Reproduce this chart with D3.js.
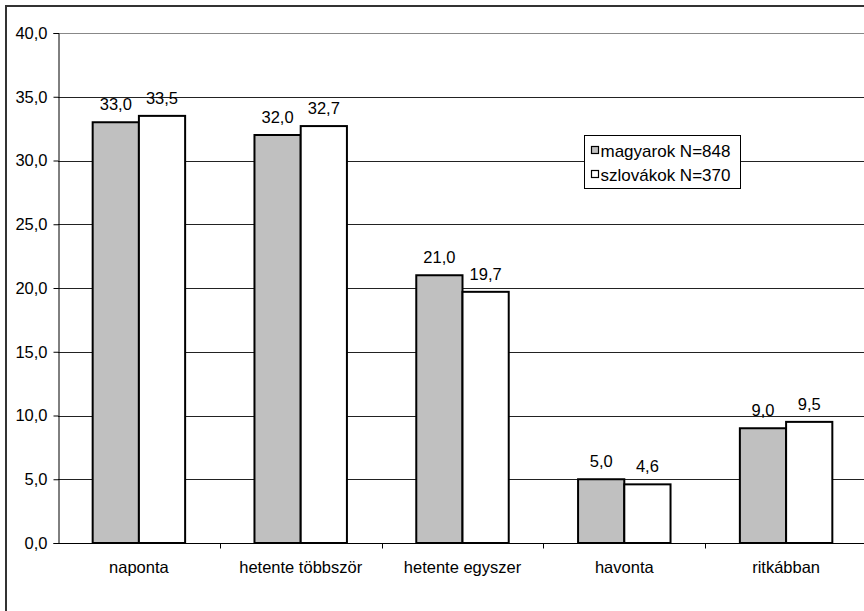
<!DOCTYPE html>
<html>
<head>
<meta charset="utf-8">
<script src="https://cdn.jsdelivr.net/npm/d3@7"></script>
<style>
  html, body { margin: 0; padding: 0; background: #fff; }
  svg { display: block; }
  text { font-family: "Liberation Sans", Arial, sans-serif; fill: #000; }
</style>
</head>
<body>
<svg id="chart" width="864" height="611"></svg>
<script>
// chart data
const categories = ["naponta", "hetente többször", "hetente egyszer", "havonta", "ritkábban"];
const seriesNames = ["magyarok N=848", "szlovákok N=370"];
const magyarok = [33.0, 32.0, 21.0, 5.0, 9.0];
const szlovakok = [33.5, 32.7, 19.7, 4.6, 9.5];
const yTicks = [0, 5, 10, 15, 20, 25, 30, 35, 40];
const seriesColors = ["#c0c0c0", "#ffffff"];

const svg = d3.select("#chart");
const plot = { left: 58, right: 867, top: 33, bottom: 543 };
const fontSize = "16.5px";
const fmt = (v) => d3.format(".1f")(v).replace(".", ",");

// outer frame (right and bottom edges fall outside the picture)
svg.append("rect")
  .attr("x", 6).attr("y", 6)
  .attr("width", 940).attr("height", 700)
  .attr("fill", "none")
  .attr("stroke", "#333")
  .attr("stroke-width", 2);

const x = d3.scaleBand().domain(categories).range([plot.left, plot.right]).padding(0);
const xInner = d3.scaleBand()
  .domain(seriesNames)
  .range([0, x.bandwidth()])
  .paddingInner(0)
  .paddingOuter(0.75);
const y = d3.scaleLinear().domain([0, 40]).range([plot.bottom, plot.top]);

// gridlines
svg.append("g")
  .selectAll("line")
  .data(yTicks.filter((t) => t > 0))
  .join("line")
  .attr("x1", plot.left).attr("x2", 864)
  .attr("y1", (d) => Math.round(y(d)) + 0.5)
  .attr("y2", (d) => Math.round(y(d)) + 0.5)
  .attr("stroke", (d) => (d === 40 ? "#888" : "#222"))
  .attr("stroke-width", 1);

// y axis
const yAxis = svg.append("g")
  .attr("transform", `translate(${plot.left + 0.5},0)`)
  .call(d3.axisLeft(y).tickValues(yTicks).tickFormat(fmt).tickSize(5).tickPadding(6));
yAxis.select(".domain").attr("stroke", "#000");
yAxis.selectAll(".tick line").attr("stroke", "#000");
yAxis.selectAll("text")
  .style("font-size", fontSize)
  .attr("fill", "#000");

// bars
const rows = categories.map((c, i) => ({ cat: c, values: [magyarok[i], szlovakok[i]] }));
const groups = svg.append("g")
  .selectAll("g")
  .data(rows)
  .join("g")
  .attr("transform", (d) => `translate(${x(d.cat)},0)`);

groups.selectAll("rect")
  .data((d) => d.values.map((v, j) => ({ name: seriesNames[j], v, j })))
  .join("rect")
  .attr("x", (d) => xInner(d.name))
  .attr("y", (d) => y(d.v))
  .attr("width", xInner.bandwidth())
  .attr("height", (d) => y(0) - y(d.v))
  .attr("fill", (d) => seriesColors[d.j])
  .attr("stroke", "#000")
  .attr("stroke-width", 2);

groups.selectAll("text")
  .data((d) => d.values.map((v, j) => ({ name: seriesNames[j], v })))
  .join("text")
  .attr("x", (d) => xInner(d.name) + xInner.bandwidth() / 2)
  .attr("y", (d) => y(d.v) - 12)
  .attr("text-anchor", "middle")
  .style("font-size", fontSize)
  .text((d) => fmt(d.v));

// x axis
const xAxisY = Math.round(y(0)) + 0.5;
const xAxis = svg.append("g").attr("transform", `translate(0,${xAxisY})`);
xAxis.append("line")
  .attr("x1", plot.left).attr("x2", 864)
  .attr("stroke", "#000");
xAxis.selectAll(".cat-tick")
  .data(categories.slice(1))
  .join("line")
  .attr("class", "cat-tick")
  .attr("x1", (d) => Math.round(x(d)) + 0.5)
  .attr("x2", (d) => Math.round(x(d)) + 0.5)
  .attr("y1", 0).attr("y2", 5)
  .attr("stroke", "#000");
xAxis.selectAll("text")
  .data(categories)
  .join("text")
  .attr("x", (d) => x(d) + x.bandwidth() / 2)
  .attr("y", 29)
  .attr("text-anchor", "middle")
  .style("font-size", fontSize)
  .text((d) => d);

// legend
const legend = svg.append("g").attr("transform", "translate(584.5,135.5)");
legend.append("rect")
  .attr("width", 156).attr("height", 53)
  .attr("fill", "#fff")
  .attr("stroke", "#000");
const items = legend.selectAll(".item")
  .data(seriesNames)
  .join("g")
  .attr("class", "item")
  .attr("transform", (d, i) => `translate(7,${15 + i * 24})`);
items.append("rect")
  .attr("x", 0).attr("y", -4)
  .attr("width", 7).attr("height", 7)
  .attr("fill", (d, i) => seriesColors[i])
  .attr("stroke", "#000")
  .attr("stroke-width", 1.2);
items.append("text")
  .attr("x", 9)
  .attr("y", 6)
  .style("font-size", "17px")
  .text((d) => d);
</script>
</body>
</html>
